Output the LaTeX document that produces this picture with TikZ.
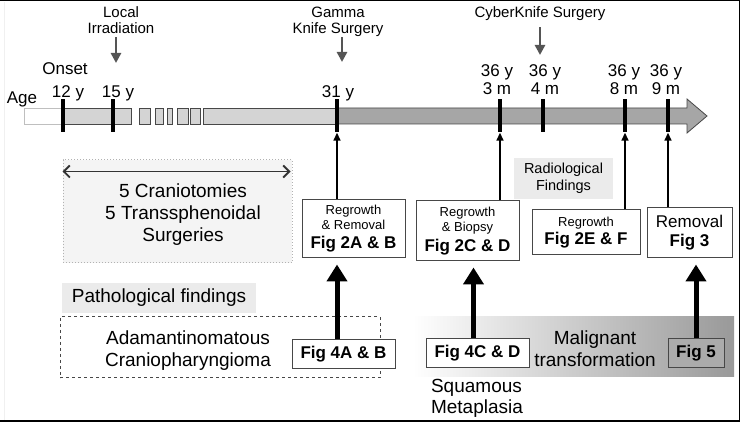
\documentclass[tikz,border=0pt]{standalone}
\usepackage{fontspec}
\setmainfont{Liberation Sans}
\usetikzlibrary{positioning, arrows.meta}

\definecolor{barlight}{HTML}{D4D4D4}
\definecolor{bardark}{HTML}{A6A6A6}
\definecolor{edgegray}{HTML}{474747}
\definecolor{labelgray}{HTML}{EBEBEB}
\definecolor{arrowgray}{HTML}{555555}

\newcommand{\figtxt}{\fontsize{17}{19}\selectfont\bfseries}

\begin{document}
\begin{tikzpicture}[
    x=1pt, y=-1pt,
    bar_seg/.style={draw=edgegray, fill=barlight, line width=0.8pt},
    age_tick/.style={rectangle, fill=black, inner sep=0pt, minimum width=4pt, minimum height=33pt},
    age_lbl/.style={font=\fontsize{17}{18}\selectfont, align=center, inner sep=0pt},
    event_lbl/.style={font=\fontsize{15}{16}\selectfont, align=center, inner sep=0pt},
    event_arrow/.style={draw=arrowgray, line width=2.5pt, -{Triangle[width=10pt,length=10pt]}},
    big_txt/.style={font=\fontsize{19}{22}\selectfont, align=center, inner sep=0pt},
    fig_box/.style={rectangle, draw=edgegray, fill=white, line width=1pt, align=center, inner sep=0pt, font=\fontsize{13}{15}\selectfont},
    thin_arrow/.style={draw=black, line width=1.6pt, -{Triangle[width=7pt,length=8pt]}},
    thick_arrow/.style={draw=black, line width=5pt, -{Triangle[width=20pt,length=17pt]}, shorten >=6pt},
    gray_label/.style={rectangle, fill=labelgray, inner sep=0pt, align=center}
]
\useasboundingbox (0,0) rectangle (740,422);

% Frame
\draw[gray!12, line width=1pt] (4,2) -- (4,420);
\draw[line width=1.5pt] (0,0.75) -- (739.25,0.75) -- (739.25,421.25) -- (0,421.25);

% Backgrounds of the lower part
\shade[left color=white, right color=black!40] (413,317) rectangle (734,377);
\node[draw=edgegray, dashed, line width=1pt, minimum width=320pt, minimum height=61pt, inner sep=0pt] (path_box) at (220,347.5) {};
\node[draw=gray!60, dotted, fill=gray!9, line width=1pt, minimum width=229pt, minimum height=103pt, inner sep=0pt] (surg_box) at (177.5,211.5) {};
\node[gray_label, minimum width=194pt, minimum height=30pt, font=\fontsize{19}{22}\selectfont] (path_lbl) at (159,298) {Pathological findings};
\node[gray_label, minimum width=99pt, minimum height=41pt, font=\fontsize{14.5}{17}\selectfont] (radio_lbl) at (563.5,178.5) {Radiological\\Findings};

% Age bar
\draw[draw=gray!50, fill=white, line width=0.8pt] (24,108) rectangle (63,124);
\draw[bar_seg] (63,108) rectangle (131,124);
\foreach \xa/\xb in {139/150, 155/163, 167/172, 177/188, 190/200}
    \draw[bar_seg] (\xa,108) rectangle (\xb,124);
\draw[bar_seg] (203,108) rectangle (337,124);
\filldraw[draw=edgegray, fill=bardark, line width=0.8pt] (337,108) -- (687,108) -- (687,99) -- (707,116) -- (687,133) -- (687,124) -- (337,124) -- cycle;

% Age ticks
\foreach \nm/\xx in {t12/63, t15/113, t31/337, t3m/500, t4m/543, t8m/625, t9m/668}
    \node[age_tick] (\nm) at (\xx,116) {};

% Age labels
\node[age_lbl, anchor=base] (l_age) at (22,104) {Age};
\node[age_lbl, anchor=base] (l_onset) at (65,75) {Onset};
\node[age_lbl, anchor=base] (l12) at (68,98) {12 y};
\node[age_lbl, anchor=base] (l15) at (118,98) {15 y};
\node[age_lbl, anchor=base] (l31) at (338,98) {31 y};
\node[age_lbl] (l3m) at (497,80) {36 y\\3 m};
\node[age_lbl] (l4m) at (545,80) {36 y\\4 m};
\node[age_lbl] (l8m) at (624,80) {36 y\\8 m};
\node[age_lbl] (l9m) at (666,80) {36 y\\9 m};

% Treatments
\node[event_lbl] (irrad) at (121,20.5) {Local\\Irradiation};
\node[event_lbl] (gamma) at (338,22) {Gamma\\Knife Surgery};
\node[event_lbl, anchor=base] (cyber) at (540,18) {CyberKnife Surgery};
\coordinate (irrad_tip) at (116,63);
\coordinate (gamma_tip) at (342,62);
\coordinate (cyber_tip) at (540,55);
\draw[event_arrow, shorten <=3pt] (irrad.south -| irrad_tip) -- (irrad_tip);
\draw[event_arrow] (gamma.south -| gamma_tip) -- (gamma_tip);
\draw[event_arrow, shorten <=6pt] (cyber.south -| cyber_tip) -- (cyber_tip);

% Surgeries
\draw[{Straight Barb[length=6pt,width=12pt]}-{Straight Barb[length=6pt,width=12pt]}, line width=1.8pt, draw=black!80] ([yshift=-12pt]surg_box.north west) -- ([yshift=-12pt,xshift=-2pt]surg_box.north east);
\node[big_txt] (surg_txt) at (183,214.5) {5 Craniotomies\\5 Transsphenoidal\\Surgeries};

% Radiological findings
\node[fig_box, minimum width=103pt, minimum height=58pt] (regrow1) at (353.5,229) {Regrowth\\\& Removal\\[4pt]\figtxt Fig 2A \& B};
\node[fig_box, minimum width=103pt, minimum height=60pt] (regrow2) at (467.5,231) {Regrowth\\\& Biopsy\\[4pt]\figtxt Fig 2C \& D};
\node[fig_box, minimum width=108pt, minimum height=45pt] (regrow3) at (586,232.5) {Regrowth\\[2pt]\figtxt Fig 2E \& F};
\node[fig_box, minimum width=85pt, minimum height=50pt, font=\fontsize{17}{19}\selectfont] (removal) at (689.5,233) {Removal\\\figtxt Fig 3};

\draw[thin_arrow] (regrow1.north -| t31) -- (t31.south);
\draw[thin_arrow] (regrow2.north -| t3m) -- (t3m.south);
\draw[thin_arrow] (regrow3.north -| t8m) -- (t8m.south);
\draw[thin_arrow] (removal.north -| t9m) -- (t9m.south);

% Pathological findings
\node[big_txt] (adam_txt) at (188,350.5) {Adamantinomatous\\Craniopharyngioma};
\node[big_txt] (malig_txt) at (595,349) {Malignant\\transformation};
\node[big_txt, align=left, font=\fontsize{19}{20.5}\selectfont] (squam_txt) at (477,398.5) {Squamous\\Metaplasia};
\node[fig_box, font=\figtxt, minimum width=103pt, minimum height=29pt] (fig4ab) at (343.5,354.5) {Fig 4A \& B};
\node[fig_box, font=\figtxt, minimum width=103pt, minimum height=29pt] (fig4cd) at (477.5,353.5) {Fig 4C \& D};
\node[fig_box, font=\figtxt, fill=black!33, minimum width=56pt, minimum height=29pt] (fig5) at (696,353.5) {Fig 5};

\coordinate (cd_foot) at ([xshift=-4pt]fig4cd.north);
\draw[thick_arrow] (fig4ab.north -| t31) -- (regrow1.south -| t31);
\draw[thick_arrow] (cd_foot) -- (cd_foot |- regrow2.south);
\draw[thick_arrow] (fig5.north) -- (fig5.north |- removal.south);

\end{tikzpicture}
\end{document}
